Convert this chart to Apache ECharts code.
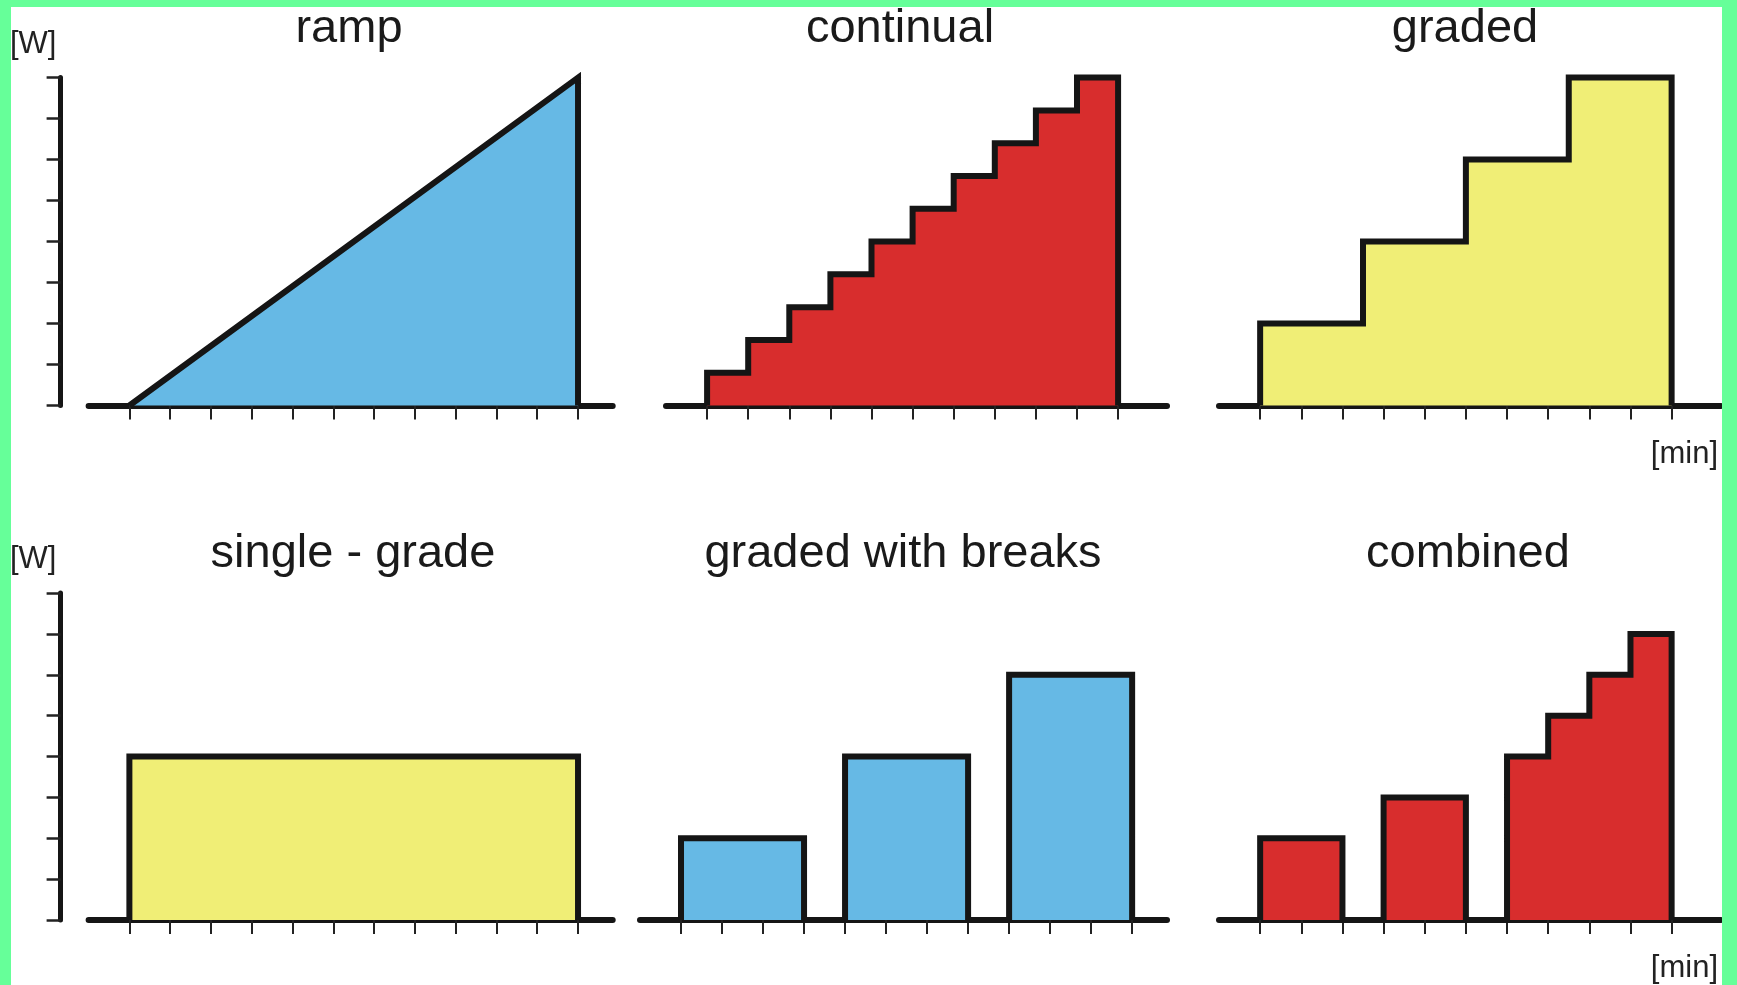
<!DOCTYPE html>
<html><head><meta charset="utf-8">
<script src="https://cdn.jsdelivr.net/npm/echarts@6/dist/echarts.min.js"></script>
<style>html,body{margin:0;padding:0;background:#fff;} #c{width:1737px;height:985px;}</style>
</head><body><div id="c"></div>
<script>
// ---- data ----
const titles = ['ramp', 'continual', 'graded', 'single - grade', 'graded with breaks', 'combined'];
const yUnitLabel = '[W]';
const xUnitLabel = '[min]';

const rampX = [0, 11, 11];
const rampY = [0, 8, 0];

const continualStart  = [0, 1, 2, 3, 4, 5, 6, 7, 8, 9];
const continualEnd    = [1, 2, 3, 4, 5, 6, 7, 8, 9, 10];
const continualHeight = [1, 2, 3, 4, 5, 6, 7, 8, 9, 10];

const gradedStart  = [0, 2.5, 5, 7.5];
const gradedEnd    = [2.5, 5, 7.5, 10];
const gradedHeight = [2, 4, 6, 8];

const singleStart  = [0];
const singleEnd    = [11];
const singleHeight = [4];

const breaksStart  = [0, 4, 8];
const breaksEnd    = [3, 7, 11];
const breaksHeight = [2, 4, 6];

const combinedStart  = [0, 3, 6, 7, 8, 9];
const combinedEnd    = [2, 5, 7, 8, 9, 10];
const combinedHeight = [2, 3, 4, 5, 6, 7];

const xTicks11 = [0, 1, 2, 3, 4, 5, 6, 7, 8, 9, 10, 11];
const xTicks10 = [0, 1, 2, 3, 4, 5, 6, 7, 8, 9, 10];

// ---- build outlines from the segment arrays ----
function outline(s, e, h) {
  const pts = [];
  for (let i = 0; i < s.length; i++) {
    if (i === 0 || s[i] !== e[i - 1]) {
      if (i > 0) pts.push([e[i - 1], 0]);
      pts.push([s[i], 0]);
    }
    pts.push([s[i], h[i]]);
    pts.push([e[i], h[i]]);
  }
  pts.push([e[e.length - 1], 0]);
  return pts;
}
const rampPts = rampX.map((x, i) => [x, rampY[i]]);

const INK = '#151515';
const BLUE = '#66b9e5', RED = '#d82d2d', YELLOW = '#f0ee76';

const panels = [
  { pts: rampPts, fill: BLUE, left: 88.6, width: 524.1, top: 77.6, height: 327.9, xmax: 11.85, ymax: 8, ticks: xTicks11, yAxis: true },
  { pts: outline(continualStart, continualEnd, continualHeight), fill: RED, left: 666, width: 501, top: 77.6, height: 327.9, xmax: 11.19, ymax: 10, ticks: xTicks10 },
  { pts: outline(gradedStart, gradedEnd, gradedHeight), fill: YELLOW, left: 1219, width: 502, top: 77.6, height: 327.9, xmax: 11.2, ymax: 8, ticks: xTicks10 },
  { pts: outline(singleStart, singleEnd, singleHeight), fill: YELLOW, left: 88.6, width: 524.1, top: 593, height: 327, xmax: 11.85, ymax: 8, ticks: xTicks11, yAxis: true },
  { pts: outline(breaksStart, breaksEnd, breaksHeight), fill: BLUE, left: 640, width: 527, top: 593, height: 327, xmax: 11.85, ymax: 8, ticks: xTicks11 },
  { pts: outline(combinedStart, combinedEnd, combinedHeight), fill: RED, left: 1219, width: 502, top: 593, height: 327, xmax: 11.2, ymax: 8, ticks: xTicks10 }
];

const titlePos = [[349, 29], [900, 29], [1465, 29], [353, 554], [903, 554], [1468, 554]];
const FONT = '"Liberation Sans", Arial, sans-serif';

const option = {
  backgroundColor: '#ffffff',
  animation: false,
  grid: panels.map(p => ({ left: p.left, top: p.top, width: p.width, height: p.height })),
  xAxis: panels.map((p, i) => ({
    type: 'value', gridIndex: i, min: -1, max: p.xmax, interval: 1,
    axisLine: { show: true, onZero: false, lineStyle: { color: INK, width: 6, cap: 'round' } },
    axisTick: { show: true, customValues: p.ticks, length: 14, lineStyle: { color: '#222', width: 2 } },
    axisLabel: { show: false },
    splitLine: { show: false }
  })),
  yAxis: panels.map((p, i) => ({
    type: 'value', gridIndex: i, min: 0, max: p.ymax, interval: 1,
    show: !!p.yAxis, offset: 28, position: 'left',
    axisLine: { show: true, onZero: false, lineStyle: { color: INK, width: 5 } },
    axisTick: { show: true, length: 14, lineStyle: { color: '#222', width: 2.5 } },
    axisLabel: { show: false },
    splitLine: { show: false }
  })),
  series: panels.map((p, i) => ({
    type: 'line', xAxisIndex: i, yAxisIndex: i, data: p.pts,
    symbol: 'none', clip: false, silent: true,
    lineStyle: { color: INK, width: 6, join: 'miter' },
    areaStyle: { color: p.fill, opacity: 1 }
  })),
  graphic: [
    { type: 'rect', shape: { x: 0, y: 0, width: 11, height: 985 }, style: { fill: '#66ff99' }, z: 100 },
    { type: 'rect', shape: { x: 0, y: 0, width: 1737, height: 7 }, style: { fill: '#66ff99' }, z: 100 },
    { type: 'rect', shape: { x: 1722, y: 0, width: 15, height: 985 }, style: { fill: '#66ff99' }, z: 100 },
    ...titles.map((t, i) => ({
      type: 'text', x: titlePos[i][0], y: titlePos[i][1], z: 50,
      style: { text: t, font: '47px ' + FONT, fill: '#1a1a1a', align: 'center', verticalAlign: 'middle' }
    })),
    { type: 'text', x: 10, y: 44, z: 50, style: { text: yUnitLabel, font: '31px ' + FONT, fill: '#222', align: 'left', verticalAlign: 'middle' } },
    { type: 'text', x: 10, y: 559, z: 50, style: { text: yUnitLabel, font: '31px ' + FONT, fill: '#222', align: 'left', verticalAlign: 'middle' } },
    { type: 'text', x: 1718, y: 454, z: 50, style: { text: xUnitLabel, font: '31px ' + FONT, fill: '#222', align: 'right', verticalAlign: 'middle' } },
    { type: 'text', x: 1718, y: 968, z: 50, style: { text: xUnitLabel, font: '31px ' + FONT, fill: '#222', align: 'right', verticalAlign: 'middle' } }
  ]
};

const chart = echarts.init(document.getElementById('c'), null, { renderer: 'canvas' });
chart.setOption(option);
</script>
</body></html>
